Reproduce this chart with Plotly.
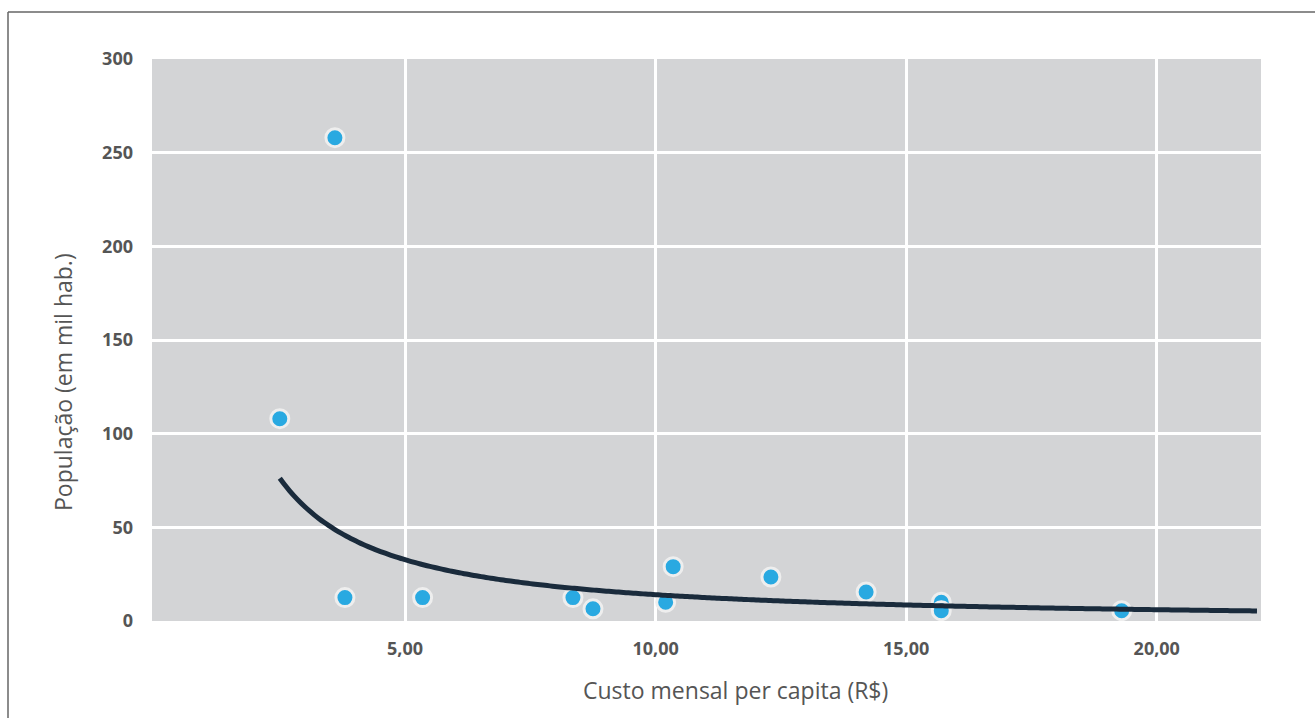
import numpy as np
import plotly.graph_objects as go

# Data
custo = [2.5, 3.6, 3.8, 5.35, 8.35, 8.75, 10.2, 10.35, 12.3, 14.2, 15.7, 15.7, 19.3]
populacao = [108, 258, 12.5, 12.5, 12.5, 6.5, 10, 29, 23.5, 15.5, 10, 5.5, 5.5]
x_ticks = [5, 10, 15, 20]
x_tick_labels = ["5,00", "10,00", "15,00", "20,00"]
y_ticks = [0, 50, 100, 150, 200, 250, 300]
y_tick_labels = ["0", "50", "100", "150", "200", "250", "300"]
x_title = "Custo mensal per capita (R$)"
y_title = "População (em mil hab.)"
trend_x_end = 22.0

# Power-law trendline fitted to the data (y = a * x^b)
b, ln_a = np.polyfit(np.log(custo), np.log(populacao), 1)
tx = np.linspace(min(custo), trend_x_end, 200)
ty = np.exp(ln_a) * tx ** b

fig = go.Figure()
fig.add_trace(go.Scatter(
    x=custo, y=populacao, mode="markers",
    marker=dict(size=18, color="#29a9e1", line=dict(color="#eeeeee", width=3)),
    showlegend=False, hoverinfo="x+y",
))
fig.add_trace(go.Scatter(
    x=tx, y=ty, mode="lines",
    line=dict(color="#1a2b3c", width=5, shape="spline"),
    showlegend=False, hoverinfo="skip",
))

L, R, T, B = 152, 54, 59, 97
W, H = 1315, 718
pw, ph = W - L - R, H - T - B

def px(xp):
    return (xp - L) / pw

def py(yp):
    return (H - B - yp) / ph

tick_font = dict(family="'Open Sans', 'Noto Sans', sans-serif", size=18, color="#555555", weight="bold")
title_font = dict(family="'Open Sans', 'Noto Sans', sans-serif", size=23, color="#555555")

fig.update_layout(
    width=W, height=H,
    margin=dict(l=L, r=R, t=T, b=B),
    paper_bgcolor="white",
    plot_bgcolor="#d3d4d6",
    xaxis=dict(
        range=[-0.05, 22.08], tickvals=x_ticks, ticktext=x_tick_labels,
        showgrid=True, gridcolor="white", gridwidth=2.5, zeroline=False,
        showline=False, ticks="", tickfont=tick_font, ticklabelstandoff=15,
    ),
    yaxis=dict(
        range=[0, 300], tickvals=y_ticks, ticktext=y_tick_labels,
        showgrid=True, gridcolor="white", gridwidth=2.5, zeroline=False,
        showline=False, ticks="", tickfont=tick_font, ticklabelstandoff=18,
    ),
    annotations=[
        dict(text=x_title, xref="paper", yref="paper", x=px(735), y=py(690),
             xanchor="center", yanchor="middle", showarrow=False, font=title_font),
        dict(text=y_title, xref="paper", yref="paper", x=px(63), y=py(382),
             xanchor="center", yanchor="middle", showarrow=False, font=title_font, textangle=-90),
    ],
    shapes=[
        dict(type="line", xref="paper", yref="paper", x0=px(8), x1=px(1315), y0=py(12), y1=py(12),
             line=dict(color="#666666", width=1.5), layer="above"),
        dict(type="line", xref="paper", yref="paper", x0=px(8), x1=px(8), y0=py(12), y1=py(718),
             line=dict(color="#666666", width=1.5), layer="above"),
    ],
)

fig.write_html("out.html")
